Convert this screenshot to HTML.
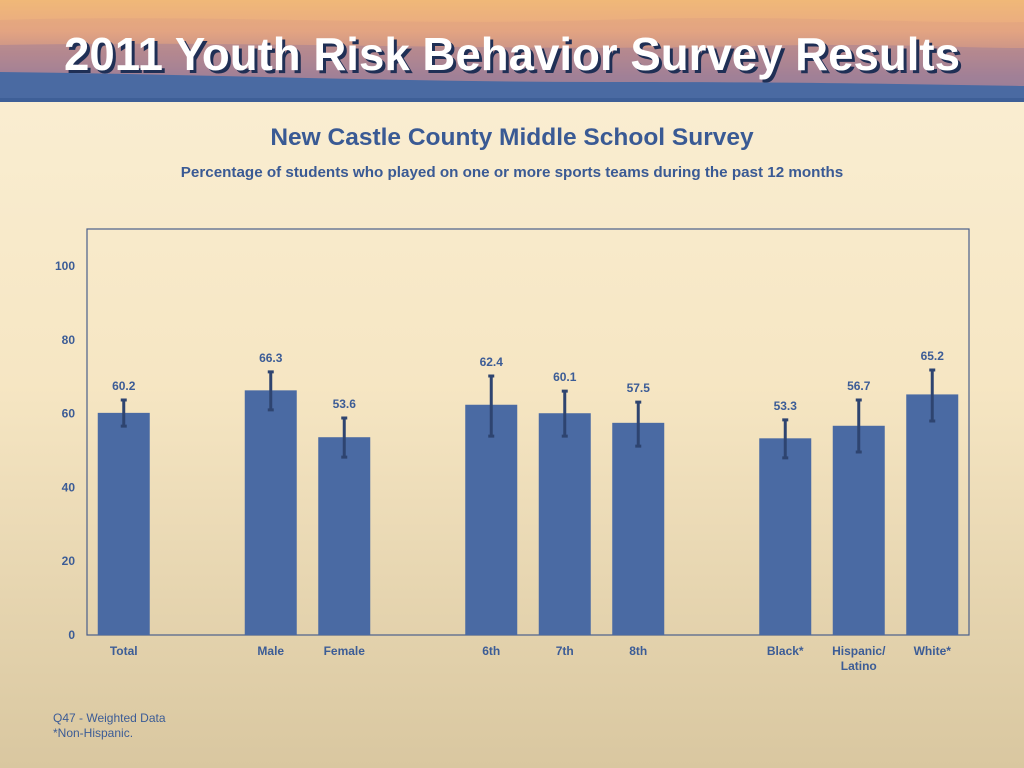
<!DOCTYPE html>
<html><head><meta charset="utf-8"><style>
body{margin:0;width:1024px;height:768px;overflow:hidden;font-family:"Liberation Sans",sans-serif;background:linear-gradient(#fbf0d6 0%,#f6e6c3 50%,#d9c7a0 100%);position:relative}
</style></head><body>
<svg width="1024" height="768" style="position:absolute;left:0;top:0">
<defs>
<linearGradient id="sky" x1="0" y1="0" x2="0" y2="1">
<stop offset="0" stop-color="#f0b878"/><stop offset="0.3" stop-color="#e9aa82"/><stop offset="0.55" stop-color="#b98a8e"/><stop offset="0.75" stop-color="#8a78a0"/><stop offset="1" stop-color="#6a72a8"/>
</linearGradient>
</defs>
<g>
<rect x="0" y="0" width="1024" height="102" fill="url(#sky)"/>
<path d="M0 20 C200 14 400 26 600 20 C800 14 900 24 1024 22 L1024 102 L0 102Z" fill="#d99a80" opacity="0.35"/>
<path d="M0 45 C250 40 500 52 750 46 C900 43 960 48 1024 48 L1024 102 L0 102Z" fill="#9c7c98" opacity="0.45"/>
<path d="M0 72 C200 74 400 82 600 82 C800 82 900 84 1024 86 L1024 102 L0 102Z" fill="#4a6aa2"/>
<rect x="0" y="98" width="1024" height="4" fill="#3e5f97"/>
<text x="64" y="70" font-family="Liberation Sans Narrow, Liberation Sans, sans-serif" font-weight="bold" font-size="46" textLength="896" lengthAdjust="spacingAndGlyphs" fill="#1f2f55" transform="translate(3,3)">2011 Youth Risk Behavior Survey Results</text>
<text x="64" y="70" font-family="Liberation Sans Narrow, Liberation Sans, sans-serif" font-weight="bold" font-size="46" textLength="896" lengthAdjust="spacingAndGlyphs" fill="#ffffff">2011 Youth Risk Behavior Survey Results</text>
</g>
<text x="512" y="145" text-anchor="middle" font-size="24.5" font-weight="bold" fill="#3a5a94">New Castle County Middle School Survey</text>
<text x="512" y="177" text-anchor="middle" font-size="15.2" font-weight="bold" fill="#3a5a94">Percentage of students who played on one or more sports teams during the past 12 months</text>
<rect x="87" y="229" width="882" height="406" fill="none" stroke="#4a5f8a" stroke-width="1.2"/>
<g id="chart"></g>
<text x="53" y="722" font-size="12" fill="#3c5c96">Q47 - Weighted Data</text>
<text x="53" y="737" font-size="12" fill="#3c5c96">*Non-Hispanic.</text>
</svg>
<script>
const categories=["Total","","Male","Female","","6th","7th","8th","","Black*","Hispanic/|Latino","White*"];
const values=[60.2,null,66.3,53.6,null,62.4,60.1,57.5,null,53.3,56.7,65.2];
const lows=[56.6,null,61,48.2,null,53.9,53.9,51.2,null,48,49.6,58];
const highs=[63.7,null,71.3,58.8,null,70.2,66.1,63.1,null,58.3,63.7,71.8];
const yTicks=[0,20,40,60,80,100];
const NS="http://www.w3.org/2000/svg";
const g=document.getElementById('chart');
const x0=87,x1=969,yb=635,pxPer=3.69;
const slot=(x1-x0)/categories.length;
const X=i=>x0+slot*(i+0.5);
const Y=v=>yb-v*pxPer;
function mk(tag,attrs,txt){const e=document.createElementNS(NS,tag);for(const k in attrs)e.setAttribute(k,attrs[k]);if(txt!=null)e.textContent=txt;g.appendChild(e);return e;}
yTicks.forEach(t=>{
 const e=mk('text',{x:75,y:Y(t)+4,'text-anchor':'end','font-size':12,'font-weight':'bold',fill:'#3c5c96'},t);
 
 
});
categories.forEach((c,i)=>{
 if(values[i]==null)return;
 const cx=X(i),w=52;
 const b=mk('rect',{x:cx-w/2,y:Y(values[i]),width:w,height:yb-Y(values[i]),fill:'#4a6aa3'});
 
 
 const eb=mk('path',{d:`M${cx} ${Y(highs[i])}V${Y(lows[i])}M${cx-3} ${Y(highs[i])}H${cx+3}M${cx-3} ${Y(lows[i])}H${cx+3}`,stroke:'#2e4470','stroke-width':3,fill:'none'});
 
 
 const lbl=mk('text',{x:cx,y:Y(highs[i])-10,'text-anchor':'middle','font-size':12,'font-weight':'bold',fill:'#3c5c96'},values[i].toFixed(1));
 
 
 c.split('|').forEach((p,j)=>{
  const t=mk('text',{x:cx,y:655+j*15,'text-anchor':'middle','font-size':12,'font-weight':'bold',fill:'#3c5c96'},p);
  
  
 });
});
</script>
</body></html>
